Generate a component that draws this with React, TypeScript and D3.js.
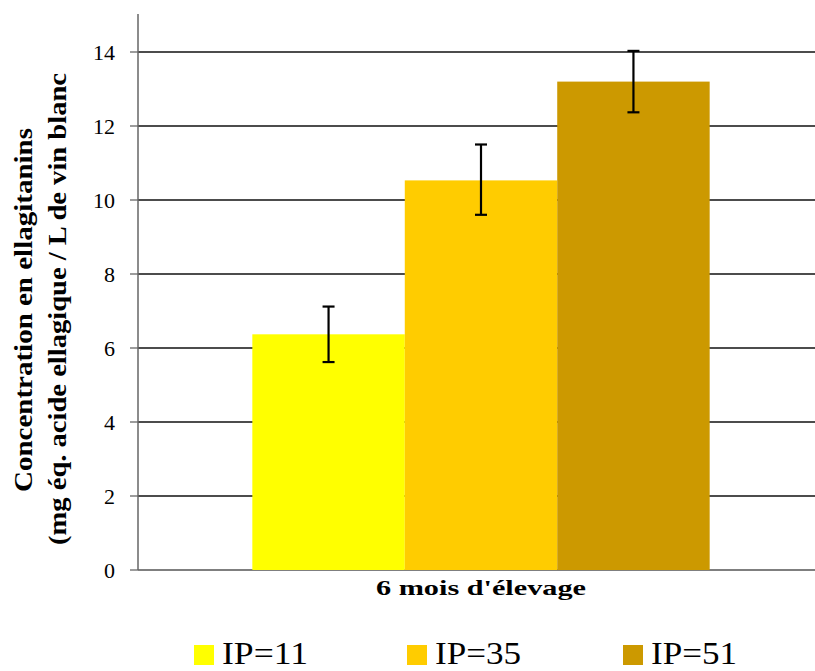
import React, { useEffect } from "react";
import * as d3 from "d3";

const categories = ["6 mois d'élevage"];
const seriesNames = ["IP=11", "IP=35", "IP=51"];
const seriesValues = [6.37, 10.53, 13.2];
const errorLow = [5.62, 9.6, 12.37];
const errorHigh = [7.12, 11.5, 14.03];
const seriesColors = ["#FFFF00", "#FFCC00", "#CC9900"];
const yTicks = [0, 2, 4, 6, 8, 10, 12, 14];
const yTitleLines = ["Concentration en ellagitanins", "(mg éq. acide ellagique / L de vin blanc"];

const W = 815;
const H = 671;
const plotLeft = 138;
const plotRight = 824;
const plotTop = 14;

export default function App() {
  useEffect(() => {
    document.body.style.margin = "0";
  }, []);

  const y = d3.scaleLinear().domain([0, 14]).range([570, 52]);
  const x0 = d3.scaleBand().domain(categories).range([plotLeft, plotRight]).paddingInner(0.2).paddingOuter(0.2);
  const x1 = d3.scaleBand().domain(seriesNames).range([0, x0.bandwidth()]).padding(0);

  const serif = "Liberation Serif, Times New Roman, DejaVu Serif, serif";
  const legendX = [194, 407, 623];
  const titleLens = [364, 472];

  return (
    <svg width={W} height={H} style={{ position: "absolute", left: 0, top: 0, background: "#fff", fontFamily: serif }}>
      <rect x={0} y={0} width={W} height={H} fill="#fff" />
      {/* gridlines */}
      {yTicks.map((t) => (
        <g key={"g" + t}>
          <line x1={plotLeft} x2={W} y1={y(t)} y2={y(t)} stroke={t === 0 ? "#555" : "#111"} strokeWidth={1.3} />
          <line x1={130} x2={plotLeft} y1={y(t)} y2={y(t)} stroke="#666" strokeWidth={1.3} />
          <text x={115} y={y(t)} dy="0.36em" textAnchor="end" fontSize={22} fill="#000">
            {t}
          </text>
        </g>
      ))}
      {/* bars */}
      {categories.map((c) => (
        <g key={c} transform={`translate(${x0(c)},0)`}>
          {seriesNames.map((s, i) => (
            <rect
              key={s}
              x={x1(s)}
              y={y(seriesValues[i])}
              width={x1.bandwidth()}
              height={y(0) - y(seriesValues[i])}
              fill={seriesColors[i]}
            />
          ))}
          {seriesNames.map((s, i) => {
            const cx = (x1(s) as number) + x1.bandwidth() / 2;
            return (
              <g key={"e" + s} stroke="#000" strokeWidth={2.2}>
                <line x1={cx} x2={cx} y1={y(errorLow[i])} y2={y(errorHigh[i])} />
                <line x1={cx - 6} x2={cx + 6} y1={y(errorLow[i])} y2={y(errorLow[i])} />
                <line x1={cx - 6} x2={cx + 6} y1={y(errorHigh[i])} y2={y(errorHigh[i])} />
              </g>
            );
          })}
        </g>
      ))}
      {/* axes */}
      <line x1={plotLeft} x2={plotLeft} y1={plotTop} y2={570} stroke="#666" strokeWidth={1.5} />
      {/* x axis title */}
      <text
        x={(x0(categories[0]) as number) + x0.bandwidth() / 2}
        y={595}
        textAnchor="middle"
        fontSize={22}
        fontWeight="bold"
        fill="#000"
        textLength={210}
        lengthAdjust="spacingAndGlyphs"
      >
        {categories[0]}
      </text>
      {/* y title */}
      {yTitleLines.map((l, i) => (
        <text
          key={l}
          transform={`translate(${32 + i * 34},${i === 0 ? 310 : 309}) rotate(-90)`}
          textAnchor="middle"
          fontSize={26}
          fontWeight="bold"
          fill="#000"
          textLength={titleLens[i]}
          lengthAdjust="spacingAndGlyphs"
        >
          {l}
        </text>
      ))}
      {/* legend */}
      {seriesNames.map((s, i) => (
        <g key={"l" + s}>
          <rect x={legendX[i]} y={645} width={20} height={20} fill={seriesColors[i]} />
          <text
            x={legendX[i] + 28}
            y={664}
            fontSize={31}
            textLength={86}
            lengthAdjust="spacingAndGlyphs"
            fill="#000"
          >
            {s}
          </text>
        </g>
      ))}
    </svg>
  );
}
